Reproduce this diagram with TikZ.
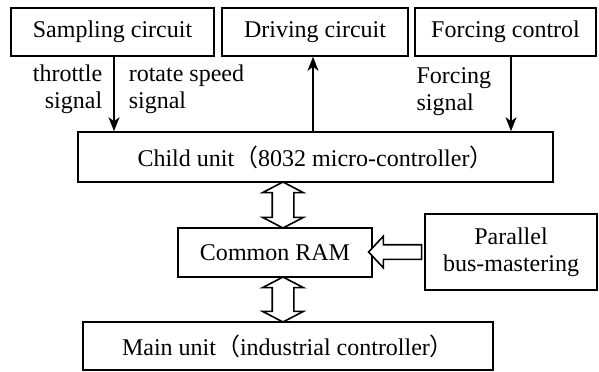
\documentclass[tikz,border=0pt]{standalone}
\usepackage{fontspec}
\setmainfont{Liberation Serif}
\newfontfamily\cjk{Noto Sans CJK SC}
\usepackage{tikz}
\usetikzlibrary{shapes.arrows, arrows.meta, positioning}
\tikzstyle{unit} = [rectangle, minimum height=24pt, text centered, draw=black, line width=0.8pt, fill=white, inner sep=1pt]
\tikzstyle{arrow} = [line width=0.8pt,->,>={Stealth[length=7pt,width=5.5pt,inset=2pt]}]
\tikzstyle{bus} = [double arrow, draw=black, line width=0.8pt, fill=white, inner sep=5pt, double arrow head extend=4.75pt, double arrow tip angle=125, rotate=90]
\tikzstyle{feed} = [single arrow, draw=black, line width=0.8pt, fill=white, inner sep=3.25pt, single arrow head extend=4.25pt, single arrow tip angle=94, shape border rotate=180]

\begin{document}
\begin{tikzpicture}[
  x=0.5pt, y=-0.5pt,
  every node/.style={font=\fontsize{12}{13.5}\selectfont},
  sig/.style={inner sep=1pt}
]
\useasboundingbox (0,0) rectangle (599,371);

\node (samp) [unit, minimum width=101.5pt] at (112.5,32) {Sampling circuit};
\node (drive) [unit, minimum width=93pt] at (315,32) {Driving circuit};
\node (force) [unit, minimum width=90.5pt] at (505.5,32) {Forcing control};

\node (child) [unit, minimum width=237.5pt, minimum height=25pt] at (315.5,157)
  {Child unit{\cjk （}8032 micro-controller{\cjk ）}};

\node (ram) [unit, minimum width=97pt, minimum height=24.5pt] at (275,252.5) {Common RAM};
\node (par) [unit, minimum width=86pt, minimum height=38pt, align=center] at (511,252)
  {Parallel\\bus-mastering};

\node (main) [unit, minimum width=205pt] at (288,346)
  {Main unit{\cjk （}industrial controller{\cjk ）}};

\node (busA) [bus, minimum height=23pt] at (283,205) {};
\node (busB) [bus, minimum height=22.5pt] at (283,299.5) {};
\node (busC) [feed, minimum height=26.5pt] at (398.5,252) {};

\draw [arrow] ([xshift=0.75pt]samp.south) -- ([xshift=0.75pt]samp.south |- child.north)
  node [sig, pos=0.43, left=4.5pt, align=right] {throttle\\signal}
  node [sig, pos=0.43, right=6pt, align=left] {rotate speed\\signal};
\draw [arrow] ([xshift=-1pt]drive.south |- child.north) -- ([xshift=-1pt]drive.south);
\draw [arrow] ([xshift=2.75pt]force.south) -- ([xshift=2.75pt]force.south |- child.north)
  node [sig, pos=0.47, left=8.5pt, align=left] {Forcing\\signal};

\end{tikzpicture}
\end{document}
